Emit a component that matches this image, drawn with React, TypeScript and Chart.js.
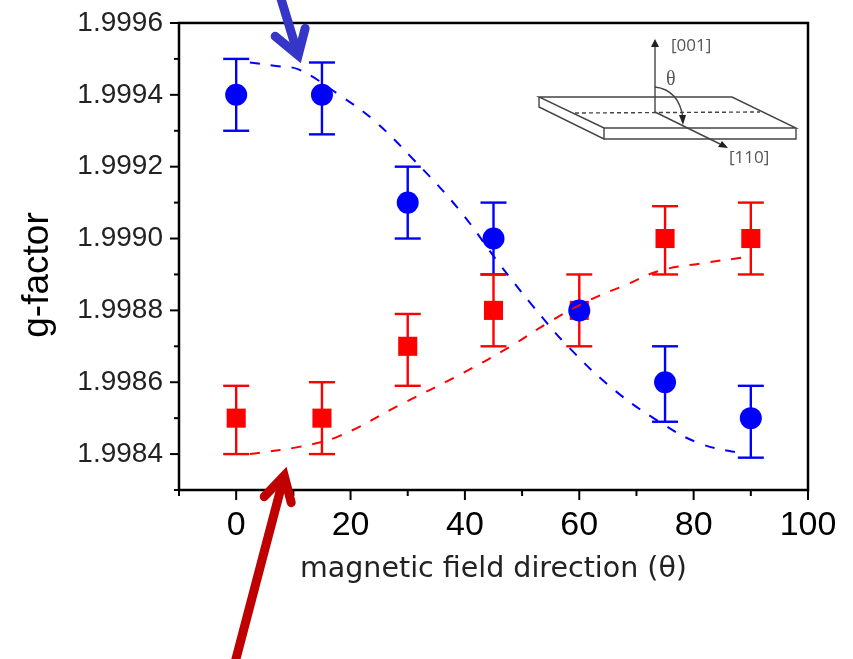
import React, { useEffect, useRef } from "react";
import { Chart, registerables } from "chart.js";
Chart.register(...registerables);

const angles = [0, 15, 30, 45, 60, 75, 90];
const blueValues = [1.9994, 1.9994, 1.9991, 1.999, 1.9988, 1.9986, 1.9985];
const blueHigh = [1.9995, 1.99949, 1.9992, 1.9991, null, 1.9987, 1.99859];
const blueLow = [1.9993, 1.99929, 1.999, 1.9989, null, 1.99849, 1.99839];
const redValues = [1.9985, 1.9985, 1.9987, 1.9988, 1.9988, 1.999, 1.999];
const redHigh = [1.99859, 1.9986, 1.99879, 1.9989, 1.9989, 1.99909, 1.9991];
const redLow = [1.9984, 1.9984, 1.99859, 1.9987, 1.9987, 1.9989, 1.9989];
const blueFitX = [2.4, 7, 11, 18, 24, 31, 39, 46, 52, 58, 66, 74, 81, 89];
const blueFitY = [1.99949, 1.99948, 1.99947, 1.9994, 1.99933, 1.99922, 1.99908, 1.99893, 1.99881, 1.9987, 1.99858, 1.99849, 1.99843, 1.9984];
const redFitX = [2.4, 11, 18, 29, 39, 48, 55, 62, 68, 74, 81, 90];
const redFitY = [1.9984, 1.99842, 1.99845, 1.99854, 1.99862, 1.9987, 1.99877, 1.99883, 1.99887, 1.99891, 1.99893, 1.99895];
const xTicks = ["0", "20", "40", "60", "80", "100"];

const FONT = "'Liberation Sans', Arial, sans-serif";

function poly(ctx: CanvasRenderingContext2D, pts: number[][], close = false) {
  ctx.beginPath();
  pts.forEach((p, i) => (i ? ctx.lineTo(p[0], p[1]) : ctx.moveTo(p[0], p[1])));
  if (close) ctx.closePath();
  ctx.stroke();
}
function head(ctx: CanvasRenderingContext2D, pts: number[][]) {
  ctx.beginPath();
  pts.forEach((p, i) => (i ? ctx.lineTo(p[0], p[1]) : ctx.moveTo(p[0], p[1])));
  ctx.closePath();
  ctx.fill();
}

const overlay = {
  id: "overlay",
  beforeDatasetsDraw(chart: any) {
    const { ctx, scales: { x, y } } = chart;
    const bars = (hi: any[], lo: any[], color: string) => {
      ctx.save();
      ctx.strokeStyle = color;
      ctx.lineWidth = 2.4;
      angles.forEach((a, i) => {
        if (hi[i] == null) return;
        const px = x.getPixelForValue(a);
        const t = y.getPixelForValue(hi[i]);
        const b = y.getPixelForValue(lo[i]);
        poly(ctx, [[px, t], [px, b]]);
        poly(ctx, [[px - 13, t], [px + 13, t]]);
        poly(ctx, [[px - 13, b], [px + 13, b]]);
      });
      ctx.restore();
    };
    bars(blueHigh, blueLow, "#0000ff");
    bars(redHigh, redLow, "#ff0000");
  },
  afterDraw(chart: any) {
    const { ctx, chartArea: a, scales: { x, y } } = chart;
    ctx.save();
    // frame
    ctx.strokeStyle = "#000";
    ctx.lineWidth = 2.5;
    ctx.strokeRect(a.left, a.top, a.right - a.left, a.bottom - a.top);
    // ticks
    ctx.lineWidth = 2;
    for (let v = -10; v <= 100; v += 10) {
      const px = x.getPixelForValue(v);
      poly(ctx, [[px, a.bottom], [px, a.bottom + (v % 20 === 0 ? 10 : 6)]]);
    }
    for (let k = 0; k <= 13; k++) {
      const py = y.getPixelForValue(1.9983 + k * 0.0001);
      poly(ctx, [[a.left, py], [a.left - (k % 2 === 1 ? 9 : 5), py]]);
    }
    // y axis title
    ctx.save();
    ctx.translate(38, 275);
    ctx.rotate(-Math.PI / 2);
    ctx.fillStyle = "#000";
    ctx.font = `37px ${FONT}`;
    ctx.textAlign = "center";
    ctx.textBaseline = "middle";
    ctx.fillText("g-factor", 0, 0);
    ctx.restore();
    // inset
    ctx.strokeStyle = "#444";
    ctx.fillStyle = "#222";
    ctx.lineWidth = 1.4;
    poly(ctx, [[539, 97], [732, 97], [796, 128], [604, 128]], true);
    poly(ctx, [[539, 97], [539, 107], [604, 139], [796, 139], [796, 128]]);
    poly(ctx, [[604, 128], [604, 139]]);
    ctx.setLineDash([4, 3]);
    poly(ctx, [[575, 113], [760, 112]]);
    ctx.setLineDash([]);
    poly(ctx, [[655, 112], [655, 46]]);
    head(ctx, [[655, 39], [651, 47], [659, 47]]);
    poly(ctx, [[655, 112], [720, 144]]);
    head(ctx, [[728, 148], [718, 147], [722, 141]]);
    ctx.beginPath();
    ctx.moveTo(655, 87);
    ctx.quadraticCurveTo(679, 90, 683, 118);
    ctx.stroke();
    head(ctx, [[683, 125], [679, 115], [686, 115]]);
    ctx.fillStyle = "#555";
    ctx.font = "17px 'Open Sans', sans-serif";
    ctx.textAlign = "left";
    ctx.textBaseline = "middle";
    ctx.fillText("[001]", 671, 46);
    ctx.fillText("[110]", 729, 158);
    ctx.font = "20px 'Liberation Serif', serif";
    ctx.fillText("θ", 666, 80);
    // pointer arrows, anchored to the axes
    const arrow = (tail: number[], tipV: number[], b1: number[], b2: number[], color: string, w: number) => {
      const tx = x.getPixelForValue(tipV[0]);
      const ty = y.getPixelForValue(tipV[1]);
      ctx.strokeStyle = color;
      ctx.fillStyle = color;
      ctx.lineWidth = w;
      ctx.lineCap = "round";
      ctx.lineJoin = "miter";
      poly(ctx, [[x.getPixelForValue(tail[0]), y.getPixelForValue(tail[1])], [tx - (tx - x.getPixelForValue(tail[0])) * 0.06, ty - (ty - y.getPixelForValue(tail[1])) * 0.06]]);
      poly(ctx, [[tx + b1[0], ty + b1[1]], [tx, ty], [tx + b2[0], ty + b2[1]]]);
    };
    arrow([7.6, 1.99968], [10.84, 1.99951], [-23, -19], [7, -27], "#3535c8", 9);
    arrow([-0.2, 1.99782], [8.4, 1.99834], [-20, 21], [7, 27], "#c00000", 9);
    ctx.restore();
  },
};

export default function App() {
  const ref = useRef<HTMLCanvasElement>(null);
  useEffect(() => {
    const chart = new Chart(ref.current!, {
      type: "scatter",
      data: {
        datasets: [
          { data: blueFitX.map((v, i) => ({ x: v, y: blueFitY[i] })), showLine: true, borderColor: "#0000ff", borderWidth: 2, borderDash: [10, 11], pointRadius: 0, tension: 0.4 },
          { data: redFitX.map((v, i) => ({ x: v, y: redFitY[i] })), showLine: true, borderColor: "#ff0000", borderWidth: 2, borderDash: [10, 11], pointRadius: 0, tension: 0.4 },
          { data: angles.map((v, i) => ({ x: v, y: blueValues[i] })), pointStyle: "circle", pointRadius: 11, backgroundColor: "#0000ff", borderColor: "#0000ff", borderWidth: 0 },
          { data: angles.map((v, i) => ({ x: v, y: redValues[i] })), pointStyle: "rect", pointRadius: 13.5, backgroundColor: "#ff0000", borderColor: "#ff0000", borderWidth: 0 },
        ],
      } as any,
      options: {
        animation: false,
        responsive: false,
        layout: { padding: { top: 2, right: 45, bottom: 68 } },
        plugins: { legend: { display: false }, tooltip: { enabled: false } },
        scales: {
          x: {
            type: "linear",
            min: -10,
            max: 100,
            afterFit: (s: any) => { s.height = 101; },
            grid: { display: false },
            border: { display: false },
            afterBuildTicks: (s: any) => { s.ticks = xTicks.map((t) => ({ value: Number(t) })); },
            ticks: { autoSkip: false, maxRotation: 0, padding: 7, color: "#000", font: { family: FONT, size: 34 }, callback: (v: any) => String(v) },
            title: { display: true, text: "magnetic field direction (θ)", color: "#222", font: { family: "'DejaVu Sans', sans-serif", size: 28.5 }, padding: { top: 0 } },
          },
          y: {
            type: "linear",
            min: 1.9983,
            max: 1.9996,
            afterFit: (s: any) => { s.width = 179; },
            grid: { display: false },
            border: { display: false },
            afterBuildTicks: (s: any) => {
              const list = [];
              for (let k = 0; k < 7; k++) list.push({ value: 1.9984 + k * 0.0002 });
              s.ticks = list;
            },
            ticks: { autoSkip: false, padding: 8, color: "#222", font: { family: FONT, size: 28, lineHeight: 1.07 }, callback: (v: any) => Number(v).toFixed(4) },
          },
        },
      } as any,
      plugins: [overlay],
    });
    return () => chart.destroy();
  }, []);
  return <canvas ref={ref} width={853} height={659} style={{ position: "absolute", left: 0, top: 0, display: "block" }} />;
}
